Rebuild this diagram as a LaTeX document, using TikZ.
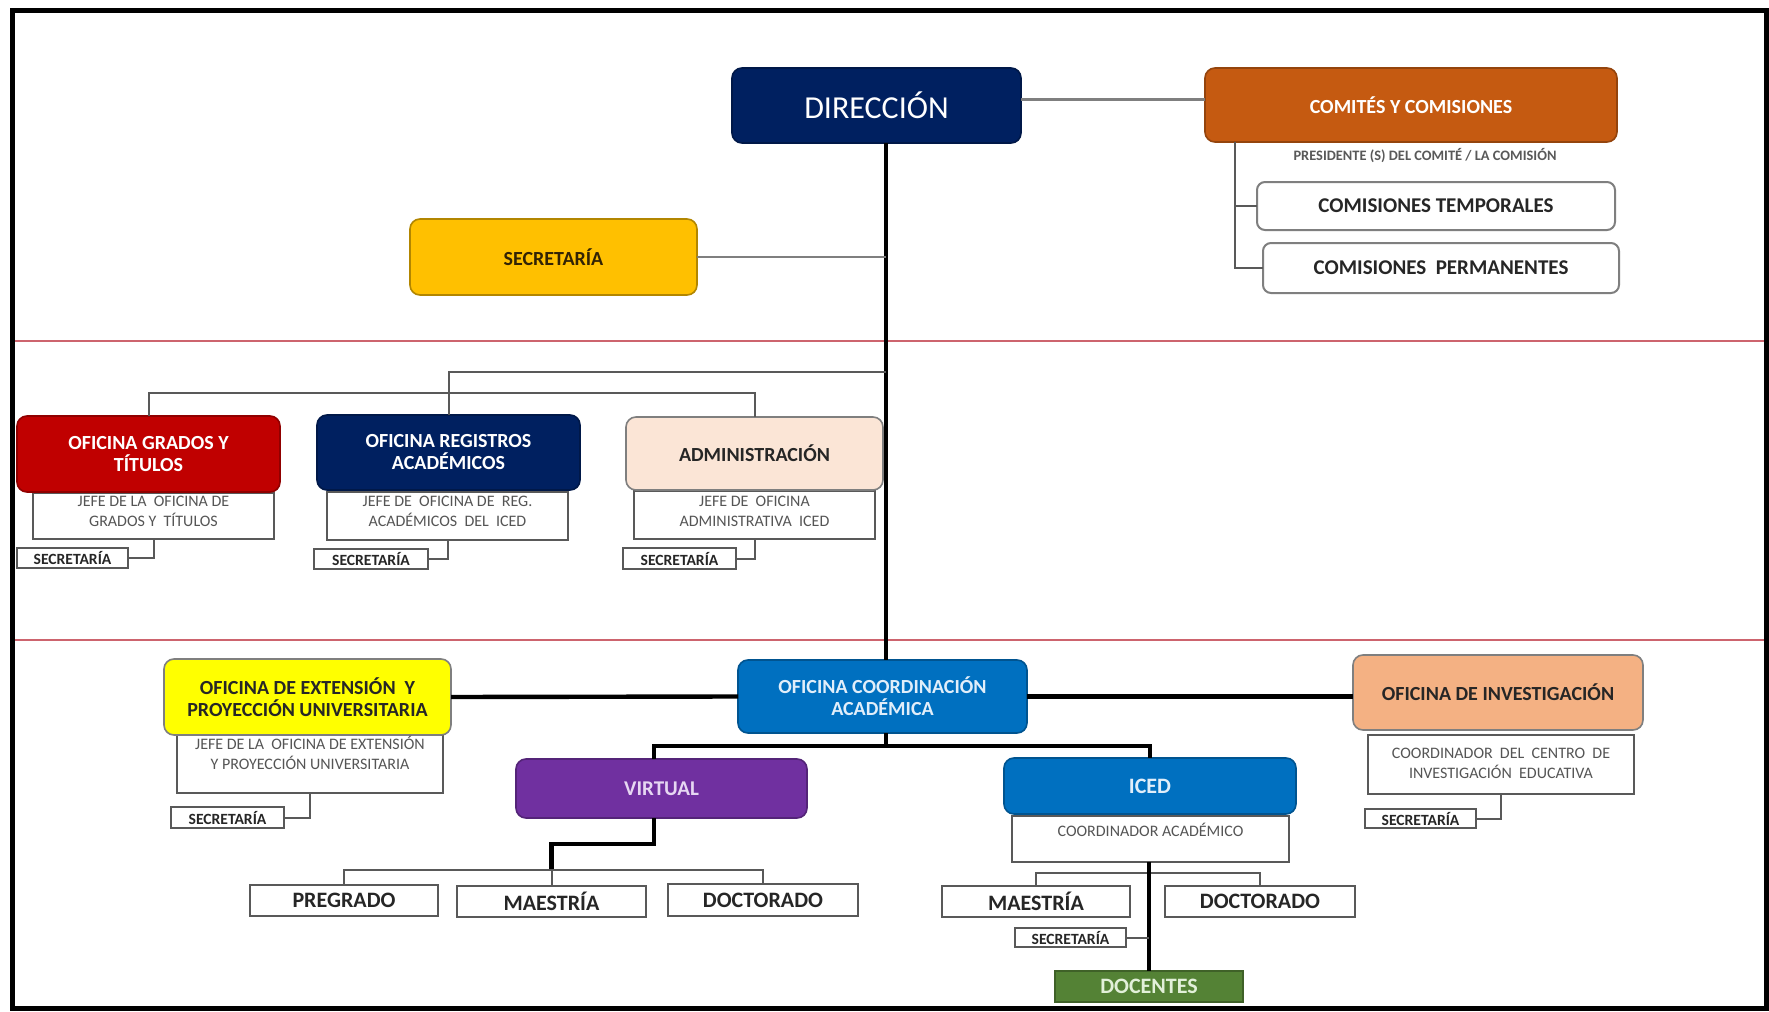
\documentclass[tikz,border=0pt]{standalone}
\usepackage{fontspec}
\setmainfont{Carlito}
\usetikzlibrary{calc}

\definecolor{navy}{HTML}{002060}
\definecolor{rust}{HTML}{C55A11}
\definecolor{gold}{HTML}{FFC000}
\definecolor{crimson}{HTML}{C00000}
\definecolor{peach}{HTML}{FBE5D6}
\definecolor{ocean}{HTML}{0070C0}
\definecolor{lemon}{HTML}{FFFF00}
\definecolor{apricot}{HTML}{F4B183}
\definecolor{plum}{HTML}{7030A0}
\definecolor{leaf}{HTML}{548235}
\definecolor{inkdark}{HTML}{262626}
\definecolor{inkgray}{HTML}{555555}
\definecolor{rulegray}{HTML}{595959}
\definecolor{linegray}{HTML}{7F7F7F}
\definecolor{bandred}{RGB}{205,100,110}

\begin{document}
\begin{tikzpicture}[x=0.5pt,y=-0.5pt,
  sz/.style 2 args={minimum width=#1*0.5pt, minimum height=#2*0.5pt},
  unit/.style={inner sep=0pt, outer sep=0pt, align=center},
  colbox/.style={unit, draw=#1!75!black, fill=#1, line width=0.8pt, rounded corners=5pt,
    font=\bfseries\fontsize{10}{11}\selectfont},
  whitebox/.style={unit, draw=rulegray, fill=white, line width=1pt, text=inkdark,
    font=\bfseries\fontsize{11}{12}\selectfont},
  roundwhite/.style={whitebox, rounded corners=4pt, draw=linegray, font=\bfseries\fontsize{10.5}{12}\selectfont},
  subbox/.style={unit, draw=rulegray, fill=white, line width=1pt},
  subtext/.style={unit, text=inkgray, font=\fontsize{8}{10}\selectfont},
  secbox/.style={unit, draw=rulegray, fill=white, line width=0.9pt, text=inkdark,
    font=\bfseries\fontsize{7.8}{8}\selectfont},
  thinline/.style={draw=rulegray, line width=1pt},
  softline/.style={draw=linegray, line width=1.2pt},
  heavy/.style={draw=black, line width=2.2pt},
]
\useasboundingbox (0,0) rectangle (1769,1012);
\fill[white] (0,0) rectangle (1769,1012);

% level separators
\draw[bandred, line width=1.3pt] (12,341) -- (1766,341);
\draw[bandred, line width=1.3pt] (12,640) -- (1766,640);

% reference columns for the trunk lines
\coordinate (tk) at (886,0);
\coordinate (cb) at (1235,0);
\coordinate (vx) at (654,0);
\coordinate (h1) at (0,372);
\coordinate (h2) at (0,393);
\coordinate (h3) at (0,746);
\coordinate (h4) at (0,844);
\coordinate (h5) at (0,870);
\coordinate (h6) at (0,873);

% ---------- top level ----------
\node[colbox=navy, text=white, sz={289}{75}, font=\fontsize{16}{18}\selectfont] (dir) at (876.5,105.5) {DIRECCIÓN};
\node[colbox=rust, text=white, sz={412}{74}] (com) at (1411,105) {COMITÉS Y COMISIONES};
\node[unit, text=rulegray, font=\bfseries\fontsize{7.2}{8}\selectfont] (pres) at (1425,156) {PRESIDENTE (S) DEL COMITÉ / LA COMISIÓN};
\node[roundwhite, sz={358}{48}] (temp) at (1436,206) {COMISIONES TEMPORALES};
\node[roundwhite, sz={356}{50}] (perm) at (1441,268) {COMISIONES~ PERMANENTES};
\node[colbox=gold, draw=gold!70!black, text={rgb,255:red,50;green,35;blue,5}, sz={287}{76}] (sec) at (553.5,257) {SECRETARÍA};

% ---------- second level ----------
\node[subbox, sz={241}{46}] (grsub) at (153.5,516) {};
\node[subbox, sz={241}{48}] (rgsub) at (447.5,516) {};
\node[subbox, sz={241}{48}] (adsub) at (754.5,515) {};
\node[colbox=crimson, text=white, sz={263}{76}] (grados) at (148.5,454) {OFICINA GRADOS Y\\TÍTULOS};
\node[colbox=navy, text=white, sz={263}{75}] (reg) at (448.5,452.5) {OFICINA REGISTROS\\ACADÉMICOS};
\node[colbox=peach, draw=linegray, text=inkdark, sz={257}{73}] (adm) at (754.5,453.5) {ADMINISTRACIÓN};
\node[subtext] (grsubt) at (153.5,511) {JEFE DE LA~ OFICINA DE\\GRADOS Y~ TÍTULOS};
\node[subtext] (rgsubt) at (447.5,511) {JEFE DE~ OFICINA DE~ REG.\\ACADÉMICOS~ DEL~ ICED};
\node[subtext] (adsubt) at (754.5,511) {JEFE DE~ OFICINA\\ADMINISTRATIVA~ ICED};
\node[secbox, sz={111}{20}] (grsec) at (72.5,558) {SECRETARÍA};
\node[secbox, sz={114}{20}] (rgsec) at (371,559) {SECRETARÍA};
\node[secbox, sz={113}{21}] (adsec) at (679.5,558.5) {SECRETARÍA};

% ---------- third level ----------
\node[subbox, sz={266}{58}] (exsub) at (310,764) {};
\node[subbox, sz={266}{59}] (invsub) at (1501,764.5) {};
\node[subbox, sz={277}{46}] (icsub) at (1150.5,839) {};
\node[colbox=ocean, text={rgb,255:red,225;green,238;blue,250}, sz={289}{73}] (coord) at (882.5,696.5) {OFICINA COORDINACIÓN\\ACADÉMICA};
\node[colbox=lemon, draw=linegray, text=inkdark, sz={287}{76}] (ext) at (307.5,697) {OFICINA DE EXTENSIÓN~ Y\\PROYECCIÓN UNIVERSITARIA};
\node[colbox=apricot, draw=linegray, text=inkdark, sz={290}{75}] (inv) at (1498,692.5) {OFICINA DE INVESTIGACIÓN};
\node[subtext] (exsubt) at (310,752.5) {JEFE DE LA~ OFICINA DE EXTENSIÓN\\Y PROYECCIÓN UNIVERSITARIA};
\node[subtext] (invsubt) at (1501,763) {COORDINADOR~ DEL~ CENTRO~ DE\\INVESTIGACIÓN~ EDUCATIVA};
\node[secbox, sz={113}{21}] (exsec) at (227.5,817.5) {SECRETARÍA};
\node[secbox, sz={111}{19}] (invsec) at (1420.5,818.5) {SECRETARÍA};

\node[colbox=plum, text={rgb,255:red,230;green,215;blue,242}, sz={291}{59}, font=\bfseries\fontsize{10.5}{12}\selectfont] (virt) at (661.5,788.5) {VIRTUAL};
\node[colbox=ocean, text={rgb,255:red,225;green,238;blue,250}, sz={292}{56}, font=\bfseries\fontsize{11}{12}\selectfont] (iced) at (1150,786) {ICED};
\node[subtext] (icsubt) at (1150.5,830) {COORDINADOR ACADÉMICO};

\node[whitebox, sz={188}{31}] (preg) at (344,900.5) {PREGRADO};
\node[whitebox, sz={189}{31}] (maesv) at (551.5,901.5) {MAESTRÍA};
\node[whitebox, sz={190}{32}] (docv) at (763,900) {DOCTORADO};
\node[whitebox, sz={188}{31}] (maesi) at (1036,901.5) {MAESTRÍA};
\node[whitebox, sz={190}{31}] (doci) at (1260,901.5) {DOCTORADO};
\node[secbox, sz={111}{19}] (icsec) at (1070.5,937.5) {SECRETARÍA};
\node[unit, draw=leaf!75!black, fill=leaf, line width=0.8pt, sz={188}{31},
  text={rgb,255:red,226;green,240;blue,217}, font=\bfseries\fontsize{11}{12}\selectfont] (doc) at (1149,986.5) {DOCENTES};

% ---------- connectors ----------
% main trunk
\draw[heavy] (tk |- dir.south) -- (tk |- coord.north);
\draw[softline] ([yshift=3pt]dir.east) -- ([yshift=3pt]dir.east -| com.west);
\draw[softline] (sec.east) -- (sec.east -| tk);

% committees bracket
\draw[thinline] (cb |- com.south) |- (perm.west);
\draw[thinline] (cb |- temp.west) -- (temp.west);

% second level branches
\draw[thinline] (tk |- h1) -| (reg.north);
\draw[thinline] (grados.north) |- (adm.north |- h2) -- (adm.north);
\draw[thinline] (grsub.south) |- (grsec.east);
\draw[thinline] (rgsub.south) |- (rgsec.east);
\draw[thinline] (adsub.south) |- (adsec.east);

% third level branches
\draw[heavy] (ext.east) -- (coord.west);
\draw[heavy] (coord.east) -- (coord.east -| inv.west);
\draw[heavy] (tk |- coord.south) -- (tk |- h3);
\draw[heavy] (vx |- virt.north) |- (iced.north |- h3) -- (iced.north);
\draw[thinline] (exsub.south) |- (exsec.east);
\draw[thinline] (invsub.south) |- (invsec.east);

% programmes under VIRTUAL
\draw[heavy] (vx |- virt.south) |- (maesv.north |- h4) -- (maesv.north |- h5);
\draw[thinline] (preg.north) |- (docv.north |- h5) -- (docv.north);
\draw[thinline] (maesv.north |- h5) -- (maesv.north);

% programmes under ICED
\draw[thinline] (maesi.north) |- (doci.north |- h6) -- (doci.north);
\draw[heavy] (doc.north |- icsub.south) -- (doc.north);
\draw[thinline] (icsec.east) -- (icsec.east -| doc.north);

% outer frame
\draw[black, line width=2.5pt] (12.5,10.5) rectangle (1766.5,1008.5);
\end{tikzpicture}
\end{document}
